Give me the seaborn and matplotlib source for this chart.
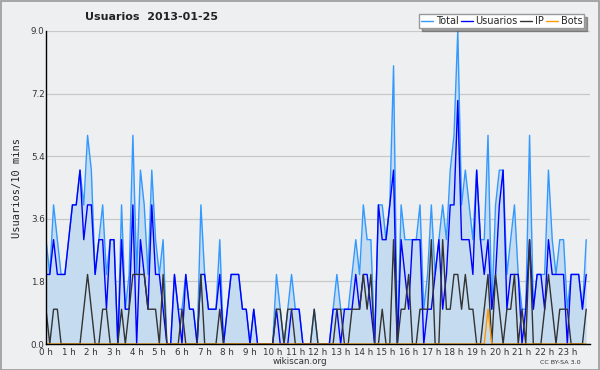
import matplotlib
matplotlib.use("Agg")
import matplotlib.pyplot as plt
import seaborn as sns
import numpy as np
import pandas as pd
from matplotlib.ticker import MultipleLocator, FixedLocator
from matplotlib.patches import Rectangle

# ---- data (10-minute slots, 2013-01-25) ----
usuarios = [2,2,3,2,2,2,3,4,4,5,3,4,
            4,2,3,3,1,3,3,0,3,1,1,4,
            0,3,2,1,4,2,2,1,0,0,2,1,
            0,2,1,1,0,2,2,1,1,1,2,0,
            1,2,2,2,1,1,0,1,0,0,0,0,
            0,1,0,0,0,1,1,1,0,0,0,0,
            0,0,0,0,1,1,0,1,1,1,2,1,
            2,2,1,0,4,3,3,4,5,0,3,2,
            1,3,3,3,0,1,1,2,3,1,2,4,
            4,7,3,3,3,2,5,3,2,3,1,2,
            4,5,1,2,2,2,0,1,3,1,2,2,
            1,3,2,2,2,2,0,2,2,2,1,2]
ip = [1,0,1,1,0,0,0,0,0,0,1,2,
      1,0,0,1,1,0,0,0,1,0,1,2,
      2,2,2,1,1,1,0,2,0,0,0,0,
      1,0,0,0,0,2,0,0,0,0,1,0,
      0,0,0,0,0,0,0,0,0,0,0,0,
      0,1,1,0,1,1,0,0,0,0,0,1,
      0,0,0,0,0,1,1,0,0,1,1,1,
      2,1,2,0,0,1,0,0,3,0,1,1,
      2,0,0,1,1,1,3,0,0,3,1,1,
      2,2,1,2,1,1,0,0,1,2,0,2,
      1,0,1,1,2,0,1,0,3,0,0,0,
      1,2,1,0,1,1,1,0,0,0,0,1]
bots = [0]*117 + [1] + [0]*26
total = [3,2,4,3,2,2,3,4,4,5,4,6,
         5,2,3,4,2,3,3,0,4,1,2,6,
         2,5,4,2,5,3,2,3,0,0,2,1,
         1,2,1,1,0,4,2,1,1,1,3,0,
         1,2,2,2,1,1,0,1,0,0,0,0,
         0,2,1,0,1,2,1,1,0,0,0,1,
         0,0,0,0,1,2,1,1,1,2,3,2,
         4,3,3,0,4,4,3,4,8,0,4,3,
         3,3,3,4,1,2,4,2,3,4,3,5,
         6,9,4,5,4,3,5,3,3,6,1,4,
         5,5,2,3,4,2,1,1,6,1,2,2,
         2,5,3,2,3,3,1,2,2,2,1,3]
hour_labels = [f"{h} h" for h in range(24)]
y_ticks = [0.0, 1.8, 3.6, 5.4, 7.2, 9.0]

slot = np.arange(len(total)) / 6.0
df = pd.DataFrame({"hora": slot, "Total": total, "Usuarios": usuarios,
                   "IP": ip, "Bots": bots})

BG = "#eeeff1"
sns.set_style("white", {"axes.facecolor": BG, "figure.facecolor": BG})
plt.rcParams["font.family"] = ["DejaVu Sans"]

fig = plt.figure(figsize=(6, 3.7), dpi=100)
fig.patch.set_facecolor(BG)
ax = fig.add_axes([46/600, 1-344/370, 544/600, 313/370])
ax.set_facecolor(BG)

ax.fill_between(df["hora"], df["Total"], 0, color="#c5dcf0", zorder=1, linewidth=0)
sns.lineplot(data=df, x="hora", y="Total", ax=ax, color="#3399ff", lw=1.0, label="Total", zorder=3)
sns.lineplot(data=df, x="hora", y="Usuarios", ax=ax, color="#0000ff", lw=1.0, label="Usuarios", zorder=4)
sns.lineplot(data=df, x="hora", y="IP", ax=ax, color="#333333", lw=1.0, label="IP", zorder=5)
sns.lineplot(data=df, x="hora", y="Bots", ax=ax, color="#ff9900", lw=1.0, label="Bots", zorder=6)

ax.set_xlim(0, 24)
ax.set_ylim(0, 9.0)
ax.yaxis.set_major_locator(FixedLocator(y_ticks))
ax.set_yticklabels([f"{v:.1f}" for v in y_ticks])
ax.yaxis.set_minor_locator(MultipleLocator(0.45))
ax.xaxis.set_major_locator(FixedLocator(list(range(24))))
ax.set_xticklabels(hour_labels)
ax.xaxis.set_minor_locator(MultipleLocator(1/6))
ax.grid(axis="y", color="#c8c8c8", lw=0.9, zorder=0)
ax.set_axisbelow(True)

for s in ["top", "right"]:
    ax.spines[s].set_visible(False)
for s in ["left", "bottom"]:
    ax.spines[s].set_color("#000000")
    ax.spines[s].set_linewidth(1.0)
    ax.spines[s].set_zorder(10)

ax.tick_params(axis="both", which="major", labelsize=6.3, colors="#000000",
               labelcolor="#333333", length=3, width=0.8, direction="out", pad=0)
ax.tick_params(axis="both", which="minor", length=2.5, width=0.8, direction="out")
ax.tick_params(axis="y", which="both", direction="in", pad=1)
ax.tick_params(axis="y", which="major", length=5)

ax.set_xlabel("")
ax.set_ylabel("Usuarios/10 mins", family="DejaVu Sans Mono", fontsize=7.5, labelpad=6)

leg = ax.get_legend()
if leg:
    leg.remove()
handles, labels = ax.get_legend_handles_labels()
fig.legend(handles, labels, loc="upper right", bbox_to_anchor=(0.982, 0.975),
           ncol=4, fontsize=7, frameon=True, fancybox=False, shadow=True,
           edgecolor="#999999", facecolor="#ffffff", handlelength=1.2,
           handletextpad=0.3, columnspacing=0.25, borderpad=0.2, framealpha=1)

fig.text(0.252, 0.954, "Usuarios  2013-01-25", ha="center", va="center",
         fontsize=8, fontweight="bold", color="#222222")
fig.text(0.5, 0.022, "wikiscan.org", ha="center", va="center", fontsize=6.3, color="#333333")
fig.text(0.967, 0.02, "CC BY-SA 3.0", ha="right", va="center", fontsize=4.6, color="#333333")

fig.patches.append(Rectangle((0.001, 0.001), 0.997, 0.996, transform=fig.transFigure,
                             fill=False, edgecolor="#999999", lw=1.2))

fig.savefig("out.png", dpi=100, facecolor=BG)
